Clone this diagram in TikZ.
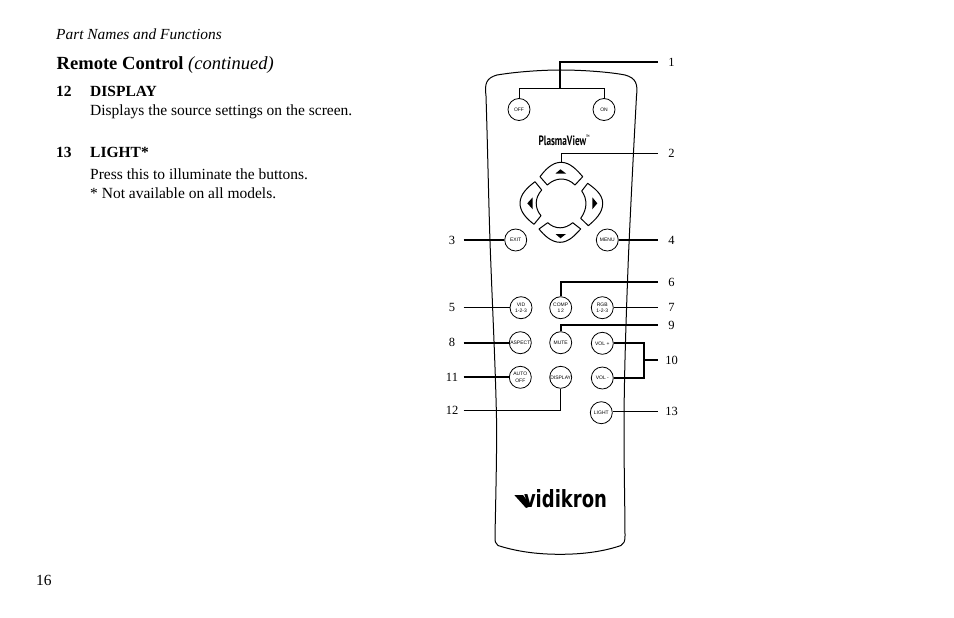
\documentclass[tikz,border=0pt]{standalone}
\usepackage{fontspec}
\setmainfont{Liberation Serif}
\newfontfamily\btnfont{Liberation Sans}
\newfontfamily\logofont{DejaVu Sans}
\newfontfamily\plasmafont{PT Sans}
\usetikzlibrary{positioning}

\begin{document}
\begin{tikzpicture}[x=1pt,y=-1pt]
\tikzset{
  btn/.style={circle, draw, fill=white, line width=0.8pt, minimum size=22pt, inner sep=0pt, align=center, font=\btnfont\fontsize{5}{6.5}\selectfont},
  txt/.style={anchor=base west, inner sep=0pt, font=\fontsize{15.5}{18}\selectfont},
  numr/.style={minimum width=27pt, inner sep=0pt, font=\fontsize{12.5}{15}\selectfont},
  numl/.style={minimum width=23pt, inner sep=0pt, font=\fontsize{12.5}{15}\selectfont},
  lead/.style={line width=1pt},
  leadk/.style={line width=1.9pt},
  padkey/.style={line width=1pt, line join=round}
}
\useasboundingbox (0,0) rectangle (954,618);

\node[txt] (head) at (56,39.5) {\fontsize{15.4}{18}\selectfont\itshape Part Names and Functions};
\node[txt] (title) at (56.5,69.3) {\fontsize{18.55}{20}\selectfont\textbf{Remote Control} \textit{(continued)}};
\node[txt] (n12) at (56,96) {\textbf{12}};
\node[txt] (t12) at (90,96) {\textbf{DISPLAY}};
\node[txt] (d12) at (90,115) {Displays the source settings on the screen.};
\node[txt] (n13) at (56,157.7) {\textbf{13}};
\node[txt] (t13) at (90,157.7) {\textbf{LIGHT*}};
\node[txt] (d13) at (90,179.3) {Press this to illuminate the buttons.};
\node[txt] (e13) at (90,198.3) {* Not available on all models.};
\node[txt] (page) at (36,585.5) {16};

% body
\draw[line width=1pt] (486,96) .. controls (484.5,84) and (486,78) .. (497,75)
  .. controls (515,72) and (540,70) .. (561,70)
  .. controls (582,70) and (610,72) .. (625,75)
  .. controls (636,78) and (638,84) .. (636.5,96)
  .. controls (633,160) and (630,220) .. (628.3,260)
  .. controls (626,320) and (624,380) .. (624,430)
  .. controls (624,470) and (625,510) .. (625,536)
  .. controls (625,541) and (624,544) .. (621,545.5)
  .. controls (605,551) and (585,554.3) .. (560,554.3)
  .. controls (535,554.3) and (515,551) .. (498,545.5)
  .. controls (495,544) and (495,541) .. (495,536)
  .. controls (495.5,510) and (496.5,470) .. (496.7,430)
  .. controls (496,380) and (493,320) .. (490.7,260)
  .. controls (489,220) and (488,160) .. (486,96) -- cycle;

% arrow pad
\draw[padkey] (540,176.7) .. controls (545,170) and (552,162.3) .. (561,162.3)
  .. controls (570,162.3) and (577,170) .. (582.7,176.7) -- (575,185)
  .. controls (567,177) and (556,177) .. (547.3,185) -- cycle;
\draw[padkey] (535,181.7) .. controls (528,187) and (520,194) .. (520,203.3)
  .. controls (520,212) and (527,219) .. (534,224.3) -- (541,215.7)
  .. controls (534.5,208) and (534.5,198) .. (541.7,190) -- cycle;
\draw[padkey] (587.7,183.3) .. controls (594,188) and (602.7,194) .. (602.7,203.3)
  .. controls (602.7,213) and (595,220) .. (588.3,225.7) -- (580.7,218.3)
  .. controls (587.5,209) and (587.5,199) .. (581.7,191) -- cycle;
\draw[padkey] (539,229) .. controls (544,235) and (551,242.3) .. (560,242.3)
  .. controls (569,242.3) and (575,235) .. (580.7,229) -- (572.7,222.7)
  .. controls (565,229.5) and (555,229.5) .. (547.7,222.7) -- cycle;
\fill (555.5,173.5) -- (560.5,169.3) -- (566,173.5) -- cycle;
\fill (532.7,197.3) -- (527.3,203.3) -- (532.7,209.3) -- cycle;
\fill (592.3,197.3) -- (597.3,203.3) -- (592.3,209.3) -- cycle;
\fill (555.5,234) -- (560.5,238.3) -- (566,234) -- cycle;

\node[inner sep=0pt] (plasma) at (564,140) {\resizebox{51pt}{10.5pt}{\plasmafont\bfseries PlasmaView\raisebox{1.2ex}{\fontsize{2.5}{3}\selectfont TM}}};
\node[inner sep=0pt] (logo) at (565.5,499) {\resizebox{83pt}{18pt}{\logofont\bfseries vidikron}};
\fill (514.3,495) -- (523,495) -- (531,506) -- (526,508) -- cycle;

% buttons
\node[btn] (off) at (519,109.5) {OFF};
\node[btn] (on) at (604,109.5) {ON};
\node[btn] (exit) at (515.7,240) {EXIT};
\node[btn] (menu) at (607.3,240) {MENU};
\node[btn] (vid) at (521,307.7) {VID\\1-2-3};
\node[btn] (comp) at (560.7,307.7) {COMP\\1\,2};
\node[btn] (rgb) at (602.3,307.7) {RGB\\1-2-3};
\node[btn] (aspect) at (520.3,342.7) {ASPECT};
\node[btn] (mute) at (560.7,342.7) {MUTE};
\node[btn] (volp) at (602.3,343.3) {VOL +};
\node[btn] (auto) at (520.3,377.3) {AUTO\\OFF};
\node[btn] (display) at (560.7,377.3) {DISPLAY};
\node[btn] (volm) at (602.3,378) {VOL -};
\node[btn] (light) at (601.3,412.7) {LIGHT};

% callout numbers
\node[numr] (one) at (671.5,62) {1};
\node[numr] (two) at (671.5,153) {2};
\node[numl] (three) at (452,240) {3};
\node[numr] (four) at (671.5,240) {4};
\node[numl] (five) at (452,307.7) {5};
\node[numr] (six) at (671.5,282) {6};
\node[numr] (seven) at (671.5,307.7) {7};
\node[numl] (eight) at (452,342.7) {8};
\node[numr] (nine) at (671.5,325) {9};
\node[numr] (ten) at (671.5,360) {10};
\node[numl] (eleven) at (452,377.3) {11};
\node[numl] (twelve) at (452,410) {12};
\node[numr] (thirteen) at (671.5,411) {13};

\coordinate (J1) at (560,89);
\coordinate (J2) at (561,162.3);
\coordinate (J10) at (644.3,360);
\coordinate (J12) at (560.7,410);

\draw[leadk] (one.west) -| (J1);
\draw[lead] (off.north) |- (J1);
\draw[lead] (on.north) |- (J1);
\draw[lead] (two.west) -| (J2);
\draw[leadk] (three.east) -- (exit);
\draw[leadk] (four.west) -- (menu);
\draw[lead] (five.east) -- (vid);
\draw[leadk] (six.west) -| (comp.north);
\draw[lead] (seven.west) -- (rgb);
\draw[leadk] (eight.east) -- (aspect);
\draw[leadk] (nine.west) -| (mute.north);
\draw[leadk] (ten.west) -- (J10);
\draw[leadk] (volp.east) -| (J10);
\draw[leadk] (volm.east) -| (J10);
\draw[leadk] (eleven.east) -- (auto);
\draw[lead] (twelve.east) -- (J12) -- (display.south);
\draw[lead] (thirteen.west) -- (thirteen.west -| light.east);
\end{tikzpicture}
\end{document}
